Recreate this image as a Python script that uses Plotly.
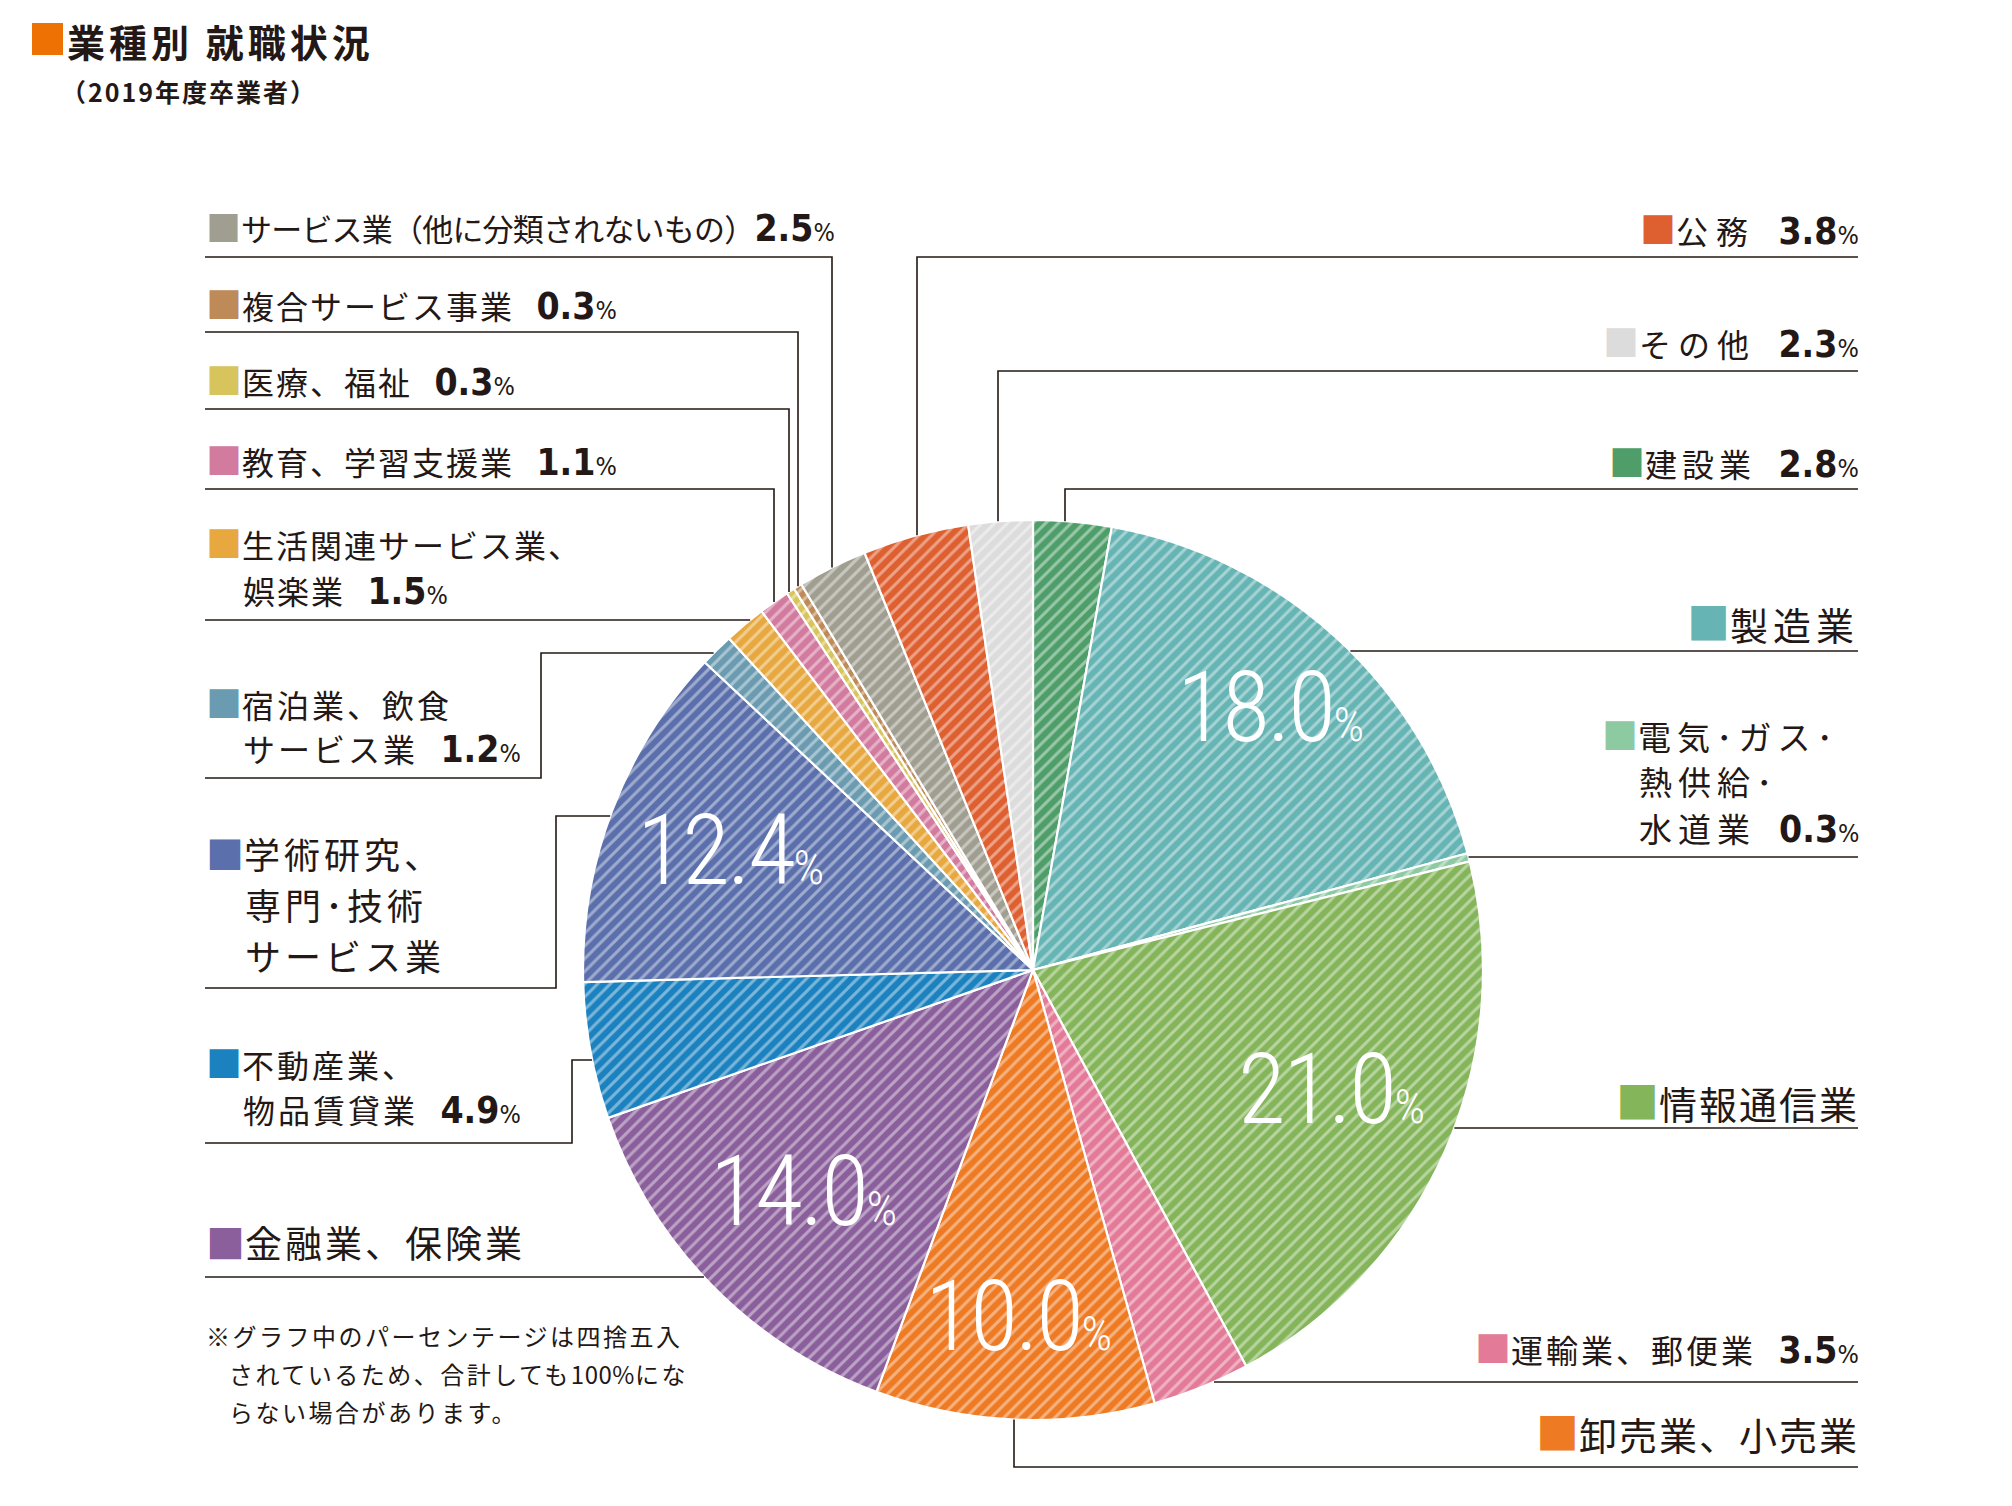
import math
import plotly.graph_objects as go

W, H = 2012, 1506
OFF = 8  # default page margin of the browser body
FW, FH = W - 2 * OFF, H - 2 * OFF

# ---------------- data ----------------
industries = [
    "建設業", "製造業", "電気・ガス・熱供給・水道業", "情報通信業", "運輸業、郵便業",
    "卸売業、小売業", "金融業、保険業", "不動産業、物品賃貸業", "学術研究、専門・技術サービス業",
    "宿泊業、飲食サービス業", "生活関連サービス業、娯楽業", "教育、学習支援業", "医療、福祉",
    "複合サービス事業", "サービス業（他に分類されないもの）", "公務", "その他",
]
shares = [2.8, 18.0, 0.3, 21.0, 3.5, 10.0, 14.0, 4.9, 12.4, 1.2, 1.5, 1.1, 0.3, 0.3, 2.5, 3.8, 2.3]
colors = [
    "#4f9e6a", "#66b4b4", "#8dcaa2", "#84b55a", "#e37a98",
    "#ee7b24", "#8a5f9b", "#1b82bf", "#5a6fab",
    "#6b9bb0", "#e7a83f", "#d27b9e", "#d8c45c",
    "#bd8a58", "#a09e91", "#de5f30", "#dcdcdc",
]

label_lines = {
    "建設業": ["建設業"],
    "製造業": ["製造業"],
    "電気・ガス・熱供給・水道業": ["電気･ガス･", "熱供給･", "水道業"],
    "情報通信業": ["情報通信業"],
    "運輸業、郵便業": ["運輸業、郵便業"],
    "卸売業、小売業": ["卸売業、小売業"],
    "金融業、保険業": ["金融業、保険業"],
    "不動産業、物品賃貸業": ["不動産業、", "物品賃貸業"],
    "学術研究、専門・技術サービス業": ["学術研究、", "専門･技術", "サービス業"],
    "宿泊業、飲食サービス業": ["宿泊業、飲食", "サービス業"],
    "生活関連サービス業、娯楽業": ["生活関連サービス業、", "娯楽業"],
    "教育、学習支援業": ["教育、学習支援業"],
    "医療、福祉": ["医療、福祉"],
    "複合サービス事業": ["複合サービス事業"],
    "サービス業（他に分類されないもの）": ["サービス業（他に分類されないもの）"],
    "公務": ["公務"],
    "その他": ["その他"],
}
big_threshold = 10.0

title = "業種別 就職状況"
subtitle = "（2019年度卒業者）"
note_lines = [["※グラフ中のパーセンテージは四捨五入"],
              ["されているため、合計しても", "100%", "にな"],
              ["らない場合があります。"]]

# ---------------- layout constants ----------------
CX, CY, R = 1033, 970, 450
INK = "#231815"
JP = "Noto Sans CJK JP"
NUMF = "DejaVu Sans Condensed"
BIGF = "Roboto Condensed, DejaVu Sans Condensed"
LEFT_X, RIGHT_X = 205, 1858
SQ = 1.12  # square glyph scale

fig = go.Figure()

fig.add_trace(go.Pie(
    labels=industries, values=shares, sort=False, direction="clockwise", rotation=0,
    marker=dict(colors=colors, line=dict(color="white", width=2.2),
                pattern=dict(shape="/", bgcolor=colors, fgcolor="white", fgopacity=0.42,
                             size=9, solidity=0.33)),
    textinfo="none", hoverinfo="label+percent", showlegend=False,
    domain=dict(x=[(CX - R - OFF) / FW, (CX + R - OFF) / FW],
                y=[1 - (CY + R - OFF) / FH, 1 - (CY - R - OFF) / FH]),
))

annotations = []
shapes = []

def ann(x, y, text, size=32, xanchor="left", yanchor="middle", family=JP, color=INK, weight=None):
    f = dict(family=family, size=size, color=color)
    if weight:
        f["weight"] = weight
    annotations.append(dict(x=x, y=y, xref="x", yref="y", text=text, showarrow=False,
                            xanchor=xanchor, yanchor=yanchor, borderpad=0, font=f))

def pct(v, size=37, psize=25):
    return (f"<span style='font-family:{NUMF};font-weight:bold;font-size:{size}px'>{v:.1f}</span>"
            f"<span style='font-family:{NUMF};font-size:{psize}px'>%</span>")

def sq(color, size, scale=SQ):
    return f"<span style='color:{color};font-size:{round(size * scale)}px'>■</span>"

def spaced(t, ls):
    return f"<span style='letter-spacing:{ls}px'>{t}</span>"

def line(pts):
    path = "M " + " L ".join(f"{x},{y}" for x, y in pts)
    shapes.append(dict(type="path", path=path, xref="x", yref="y",
                       line=dict(color=INK, width=1.6)))

def edge_y(x, top=True):
    d = math.sqrt(max(R * R - (x - CX) ** 2, 0))
    return CY - d if top else CY + d

def edge_x(y, right=True):
    d = math.sqrt(max(R * R - (y - CY) ** 2, 0))
    return CX + d if right else CX - d

idx = {n: i for i, n in enumerate(industries)}

def share_of(n):
    return shares[idx[n]]

def col(n):
    return colors[idx[n]]

GAP = "\u2002\u2009"

# ---------- right side single-line labels ----------
right_specs = [  # name, y_label, y_line, kind, xv, size, ls, show share
    ("公務", 228, 257, "vert", 917, 32, 8, True),
    ("その他", 341, 371, "vert", 998, 32, 7, True),
    ("建設業", 461, 489, "vert", 1065, 32, 5, True),
    ("製造業", 621, 651, "horiz", None, 38, 5, False),
    ("情報通信業", 1100, 1128, "horiz", None, 38, 2, False),
    ("運輸業、郵便業", 1347, 1382, "horiz", None, 32, 3, True),
    ("卸売業、小売業", 1431, 1467, "vertb", 1014, 38, 2, False),
]
for name, yl, yline, kind, xv, size, ls, show in right_specs:
    txt = sq(col(name), size) + spaced(label_lines[name][0], ls)
    if show:
        txt += GAP + pct(share_of(name))
    ann(RIGHT_X + 2, yl, txt, size=size, xanchor="right")
    if kind == "vert":
        line([(RIGHT_X, yline), (xv, yline), (xv, edge_y(xv, True))])
    elif kind == "vertb":
        line([(RIGHT_X, yline), (xv, yline), (xv, edge_y(xv, False))])
    else:
        line([(RIGHT_X, yline), (edge_x(yline, True), yline)])

# 電気・ガス・熱供給・水道業 (multi-line)
n = "電気・ガス・熱供給・水道業"
ys = [734, 781, 828]
for k, (t, yy) in enumerate(zip(label_lines[n], ys)):
    if k == 0:
        ann(1601, yy, sq(col(n), 32) + spaced(t, 6), size=33, xanchor="left")
    else:
        txt = spaced(t, 6)
        if k == len(ys) - 1:
            txt += GAP + pct(share_of(n))
        ann(1601 + 32 * SQ + 1, yy, txt, size=33, xanchor="left")
line([(RIGHT_X, 857), (edge_x(857, True), 857)])

# ---------- left side labels ----------
left_specs = [  # name, y lines, size, ls, show share, gap, line spec
    ("サービス業（他に分類されないもの）", [225], 31, -0.8, True, "", ("vert", 257, 832)),
    ("複合サービス事業", [303], 32, 2, True, GAP, ("vert", 332, 798)),
    ("医療、福祉", [379], 32, 2, True, GAP, ("vert", 409, 789)),
    ("教育、学習支援業", [459], 32, 2, True, GAP, ("vert", 489, 774)),
    ("生活関連サービス業、娯楽業", [542, 590], 32, 2, True, GAP, ("horiz", 620)),
    ("宿泊業、飲食サービス業", [702, 748], 32, 3, True, GAP, ("elbow", 778, 541, 653)),
    ("学術研究、専門・技術サービス業", [852, 904, 955], 36, 4, False, GAP, ("elbow", 988, 556, 816)),
    ("不動産業、物品賃貸業", [1062, 1109], 32, 3, True, GAP, ("elbow", 1143, 572, 1060)),
    ("金融業、保険業", [1241], 37, 3, False, GAP, ("horiz", 1277)),
]
for name, ys, size, ls, show, gap, lspec in left_specs:
    scale = SQ if size < 35 else 1.05
    for k, (t, yy) in enumerate(zip(label_lines[name], ys)):
        txt = spaced(t, ls)
        if show and k == len(ys) - 1:
            txt += gap + pct(share_of(name))
        if k == 0:
            ann(LEFT_X, yy, sq(col(name), size, scale) + txt, size=size, xanchor="left")
        else:
            ann(LEFT_X + size * scale + 1, yy, txt, size=size, xanchor="left")
    kind = lspec[0]
    if kind == "vert":
        _, yl, xv = lspec
        line([(LEFT_X, yl), (xv, yl), (xv, edge_y(xv, True))])
    elif kind == "horiz":
        _, yl = lspec
        line([(LEFT_X, yl), (edge_x(yl, False), yl)])
    else:
        _, yl, xv, yu = lspec
        line([(LEFT_X, yl), (xv, yl), (xv, yu), (edge_x(yu, False), yu)])

# ---------- big percentages inside the pie ----------
big_radius = {"製造業": 0.78, "情報通信業": 0.725, "卸売業、小売業": 0.78,
              "金融業、保険業": 0.715, "学術研究、専門・技術サービス業": 0.72}
big_dy = {"情報通信業": -9}
cum = 0.0
total = sum(shares)
for name, v in zip(industries, shares):
    mid = (cum + v / 2) / total * 2 * math.pi
    cum += v
    if v >= big_threshold:
        rr = big_radius.get(name, 0.75) * R
        x = CX + rr * math.sin(mid)
        y = CY - rr * math.cos(mid) - 4 + big_dy.get(name, 0)
        txt = (f"<span style='letter-spacing:-2.5px'>{v:.1f}</span>"
               f"<span style='font-size:48px'>%</span>")
        ann(x, y, txt, size=98, xanchor="center", family=BIGF, color="white", weight=300)

# ---------- title / note ----------
shapes.append(dict(type="rect", xref="x", yref="y", x0=32, x1=63, y0=23, y1=55,
                   fillcolor="#ee7203", line=dict(width=0)))
ann(66, 40, spaced(f"<b>{title}</b>", 4), size=38, xanchor="left")
ann(60, 91, spaced(f"<b>{subtitle}</b>", 2), size=25, xanchor="left")
for k, parts in enumerate(note_lines):
    txt = "".join(spaced(p, 0.5 if p.startswith("100") else 2.5) for p in parts)
    ann(205 if k == 0 else 228, 1335 + 38 * k, txt, size=24, xanchor="left")

fig.update_layout(
    width=FW, height=FH, margin=dict(l=0, r=0, t=0, b=0),
    paper_bgcolor="white", plot_bgcolor="white",
    xaxis=dict(range=[OFF, W - OFF], visible=False, fixedrange=True, domain=[0, 1]),
    yaxis=dict(range=[H - OFF, OFF], visible=False, fixedrange=True, domain=[0, 1]),
    annotations=annotations, shapes=shapes, showlegend=False,
)
fig.write_html("out.html")
